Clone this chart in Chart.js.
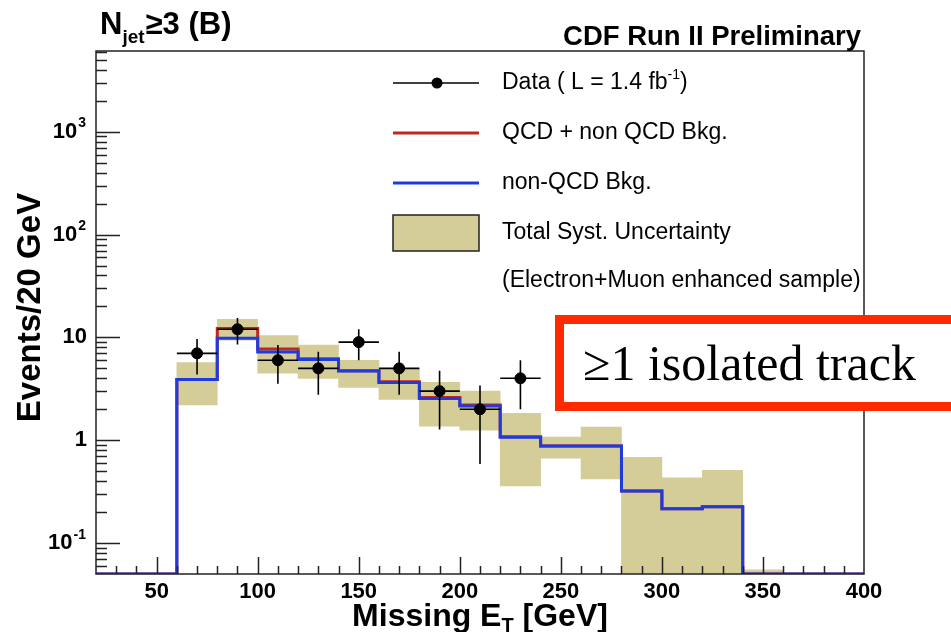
<!DOCTYPE html>
<html>
<head>
<meta charset="utf-8">
<script src="https://cdn.jsdelivr.net/npm/chart.js@4"></script>
<style>
    html, body { margin: 0; padding: 0; background: #fff; }
    #wrap { position: relative; width: 951px; height: 632px; overflow: hidden; }
    #tag {
        position: absolute; left: 555px; top: 315px;
        width: 440px; height: 78px; padding-left: 19px;
        border: 9px solid #ff2a00; background: #fff;
        font: 50px 'Liberation Serif', 'Times New Roman', serif;
        line-height: 78px; white-space: nowrap; color: #000;
    }
</style>
</head>
<body>
<div id="wrap">
    <canvas id="met"></canvas>
    <div id="tag">≥1 isolated track</div>
</div>
<script>
// 구간 하한 (GeV), 폭 20 GeV
const binLow = [20, 40, 60, 80, 100, 120, 140, 160, 180, 200, 220, 240, 260, 280, 300, 320, 340, 360, 380];
const BIN_WIDTH = 20;

// 배경 히스토그램
const nonQcdBkg = [0, 0, 3.9, 9.8, 7.2, 6.1, 4.7, 3.65, 2.55, 2.15, 1.07, 0.88, 0.88, 0.32, 0.215, 0.225, 0, 0, 0];
const totalBkg = [0, 0, 3.9, 12.2, 7.7, 6.2, 4.75, 3.7, 2.6, 2.2, 1.08, 0.88, 0.88, 0.32, 0.215, 0.225, 0, 0, 0];

// 전체 계통 오차 밴드
const systHigh = [0, 0, 5.7, 15, 10.4, 8.4, 6.0, 5.0, 3.66, 3.0, 1.83, 1.07, 1.34, 0.68, 0.43, 0.51, 0.055, 0, 0];
const systLow = [0, 0, 2.2, 9.4, 4.5, 4.0, 3.27, 2.5, 1.37, 1.25, 0.36, 0.67, 0.42, 0, 0, 0, 0, 0, 0];

// 데이터 (구간 중심, 사건 수)
const dataX = [70, 90, 110, 130, 150, 170, 190, 210, 230];
const dataY = [7, 12, 6, 5, 9, 5, 3, 2, 4];

// 축 범위와 눈금
const X_MIN = 20, X_MAX = 400;
const Y_MIN = 0.05, Y_MAX = 6100;
const xTickValues = [50, 100, 150, 200, 250, 300, 350, 400];
const yTickValues = [0.1, 1, 10, 100, 1000];
const yTickText = [['10', '-1'], ['1', ''], ['10', ''], ['10', '2'], ['10', '3']];

const SANS = '"Liberation Sans", Arial, Helvetica, sans-serif';
const TAN = '#d5cd98';
const RED = '#c0281c';
const BLUE = '#1f3be0';

// 구간 값을 계단 모양 점으로 변환 (0 은 축 바닥에)
const toSteps = (values) => {
    const pts = [];
    binLow.forEach((lo, i) => {
        const v = values[i] > 0 ? values[i] : Y_MIN;
        pts.push({ x: lo, y: v }, { x: lo + BIN_WIDTH, y: v });
    });
    return pts;
};

// 계통 오차 밴드를 떠있는 막대로 변환
const toBand = () => binLow
    .map((lo, i) => ({ x: lo + BIN_WIDTH / 2, y: [systLow[i] > 0 ? systLow[i] : Y_MIN / 10, systHigh[i]] }))
    .filter((d, i) => systHigh[i] > 0);

// 위첨자가 붙은 글자 (오른쪽 정렬)
function drawPow(ctx, base, exp, right, cy, size) {
    ctx.textBaseline = 'middle';
    ctx.textAlign = 'right';
    let r = right;
    if (exp) {
        ctx.font = `bold ${Math.round(size * 0.62)}px ${SANS}`;
        ctx.fillText(exp, r, cy - size * 0.38);
        r -= ctx.measureText(exp).width + 1;
    }
    ctx.font = `bold ${size}px ${SANS}`;
    ctx.fillText(base, r, cy);
}

const rootFrame = {
    id: 'rootFrame',
    beforeDraw(chart) {
        const { ctx, width, height } = chart;
        ctx.save();
        ctx.fillStyle = '#fff';
        ctx.fillRect(0, 0, width, height);
        ctx.restore();
    },
    afterDatasetsDraw(chart) {
        // 데이터 오차 막대 (√N)
        const { ctx, chartArea: a, scales: { x, y } } = chart;
        ctx.save();
        ctx.beginPath();
        ctx.rect(a.left, a.top, a.right - a.left, a.bottom - a.top);
        ctx.clip();
        ctx.strokeStyle = '#000';
        ctx.lineWidth = 1.6;
        dataX.forEach((xv, i) => {
            const n = dataY[i];
            const err = Math.sqrt(n);
            const px = x.getPixelForValue(xv);
            const py = y.getPixelForValue(n);
            ctx.beginPath();
            ctx.moveTo(x.getPixelForValue(xv - BIN_WIDTH / 2), py);
            ctx.lineTo(x.getPixelForValue(xv + BIN_WIDTH / 2), py);
            ctx.moveTo(px, y.getPixelForValue(n + err));
            ctx.lineTo(px, y.getPixelForValue(n - err));
            ctx.stroke();
        });
        ctx.restore();
    },
    afterDraw(chart) {
        const { ctx, chartArea: a, scales: { x, y } } = chart;
        ctx.save();
        ctx.strokeStyle = '#222';
        ctx.fillStyle = '#000';
        ctx.lineWidth = 1.5;

        // 테두리
        ctx.strokeRect(a.left, a.top, a.right - a.left, a.bottom - a.top);

        // x 축 눈금 (안쪽으로)
        ctx.beginPath();
        for (let v = X_MIN + 10; v < X_MAX; v += 10) {
            const px = Math.round(x.getPixelForValue(v)) + 0.5;
            const len = v % 50 === 0 ? 17 : 8;
            ctx.moveTo(px, a.bottom);
            ctx.lineTo(px, a.bottom - len);
        }
        // y 축 눈금 (로그)
        for (let e = -2; e <= 3; e++) {
            for (let m = 1; m <= 9; m++) {
                const v = m * Math.pow(10, e);
                if (v <= Y_MIN * 1.001 || v >= Y_MAX) continue;
                const py = Math.round(y.getPixelForValue(v)) + 0.5;
                ctx.moveTo(a.left, py);
                ctx.lineTo(a.left + (m === 1 ? 24 : 11), py);
            }
        }
        ctx.stroke();

        // 눈금 글자
        ctx.font = `bold 22px ${SANS}`;
        ctx.textAlign = 'center';
        ctx.textBaseline = 'top';
        xTickValues.forEach((v) => {
            ctx.fillText(String(v), x.getPixelForValue(v), a.bottom + 7);
        });
        yTickValues.forEach((v, i) => {
            const [base, exp] = yTickText[i];
            drawPow(ctx, base, exp, exp ? 86 : 87, y.getPixelForValue(v), 22);
        });

        // x 축 제목
        ctx.textBaseline = 'alphabetic';
        ctx.textAlign = 'left';
        const big = `bold 32px ${SANS}`;
        const sub = `bold 20px ${SANS}`;
        ctx.font = big;
        const w1 = ctx.measureText('Missing E').width;
        const w3 = ctx.measureText(' [GeV]').width;
        ctx.font = sub;
        const w2 = ctx.measureText('T').width;
        let cx = (a.left + a.right) / 2 - (w1 + w2 + w3) / 2;
        ctx.font = big;
        ctx.fillText('Missing E', cx, 626);
        cx += w1;
        ctx.font = sub;
        ctx.fillText('T', cx, 632);
        cx += w2;
        ctx.font = big;
        ctx.fillText(' [GeV]', cx, 626);

        // y 축 제목
        ctx.save();
        ctx.translate(40, (a.top + a.bottom) / 2 - 5);
        ctx.rotate(-Math.PI / 2);
        ctx.textAlign = 'center';
        ctx.font = `bold 33px ${SANS}`;
        ctx.fillText('Events/20 GeV', 0, 0);
        ctx.restore();

        // 제목
        ctx.textAlign = 'left';
        ctx.font = `bold 31px ${SANS}`;
        cx = 100;
        ctx.fillText('N', cx, 34);
        cx += ctx.measureText('N').width;
        ctx.font = `bold 19px ${SANS}`;
        ctx.fillText('jet', cx, 43);
        cx += ctx.measureText('jet').width + 1;
        ctx.font = `bold 31px ${SANS}`;
        ctx.fillText('≥3 (B)', cx, 34);

        ctx.textAlign = 'right';
        ctx.font = `bold 27.5px ${SANS}`;
        ctx.fillText('CDF Run II Preliminary', 861, 45);

        // 범례
        const lx0 = 393, lx1 = 479, tx = 502;
        ctx.textAlign = 'left';
        ctx.textBaseline = 'middle';
        const rows = [83, 133, 183, 233, 281];

        ctx.strokeStyle = '#000';
        ctx.lineWidth = 1.5;
        ctx.beginPath();
        ctx.moveTo(lx0, rows[0]);
        ctx.lineTo(lx1, rows[0]);
        ctx.stroke();
        ctx.beginPath();
        ctx.arc(437, rows[0], 5.5, 0, Math.PI * 2);
        ctx.fillStyle = '#000';
        ctx.fill();

        ctx.lineWidth = 3;
        ctx.strokeStyle = RED;
        ctx.beginPath();
        ctx.moveTo(lx0, rows[1]);
        ctx.lineTo(lx1, rows[1]);
        ctx.stroke();
        ctx.strokeStyle = BLUE;
        ctx.beginPath();
        ctx.moveTo(lx0, rows[2]);
        ctx.lineTo(lx1, rows[2]);
        ctx.stroke();

        ctx.fillStyle = TAN;
        ctx.fillRect(lx0, rows[3] - 18, lx1 - lx0, 36);
        ctx.strokeStyle = '#222';
        ctx.lineWidth = 1.5;
        ctx.strokeRect(lx0, rows[3] - 18, lx1 - lx0, 36);

        ctx.fillStyle = '#000';
        const leg = `23px ${SANS}`;
        ctx.font = leg;
        const dataText = 'Data ( L = 1.4 fb';
        ctx.fillText(dataText, tx, rows[0]);
        let lx = tx + ctx.measureText(dataText).width;
        ctx.font = `14px ${SANS}`;
        ctx.fillText('-1', lx, rows[0] - 8);
        lx += ctx.measureText('-1').width;
        ctx.font = leg;
        ctx.fillText(')', lx, rows[0]);
        ctx.fillText('QCD + non QCD Bkg.', tx, rows[1]);
        ctx.fillText('non-QCD Bkg.', tx, rows[2]);
        ctx.fillText('Total Syst. Uncertainty', tx, rows[3]);
        ctx.fillText('(Electron+Muon enhanced sample)', tx, rows[4]);

        ctx.restore();
    }
};

const canvas = document.getElementById('met');
canvas.width = 951;
canvas.height = 632;

new Chart(canvas.getContext('2d'), {
    type: 'line',
    data: {
        datasets: [
            {
                type: 'scatter',
                label: 'Data',
                data: dataX.map((xv, i) => ({ x: xv, y: dataY[i] })),
                backgroundColor: '#000',
                borderColor: '#000',
                pointRadius: 5.5,
                showLine: false,
                order: 0,
            },
            {
                label: 'non-QCD Bkg.',
                data: toSteps(nonQcdBkg),
                borderColor: BLUE,
                borderWidth: 3,
                pointRadius: 0,
                fill: false,
                tension: 0,
                order: 1,
            },
            {
                label: 'QCD + non QCD Bkg.',
                data: toSteps(totalBkg),
                borderColor: RED,
                borderWidth: 3,
                pointRadius: 0,
                fill: false,
                tension: 0,
                order: 2,
            },
            {
                type: 'bar',
                label: 'Total Syst. Uncertainty',
                data: toBand(),
                backgroundColor: TAN,
                borderWidth: 0,
                barPercentage: 1,
                categoryPercentage: 1,
                grouped: false,
                clip: 0,
                order: 3,
            },
        ],
    },
    options: {
        responsive: false,
        animation: false,
        events: [],
        layout: { padding: { left: 96, right: 87, top: 51, bottom: 58 } },
        plugins: { legend: { display: false }, tooltip: { enabled: false } },
        scales: {
            x: { type: 'linear', min: X_MIN, max: X_MAX, offset: false, display: false },
            y: { type: 'logarithmic', min: Y_MIN, max: Y_MAX, display: false },
        },
    },
    plugins: [rootFrame],
});
</script>
</body>
</html>
